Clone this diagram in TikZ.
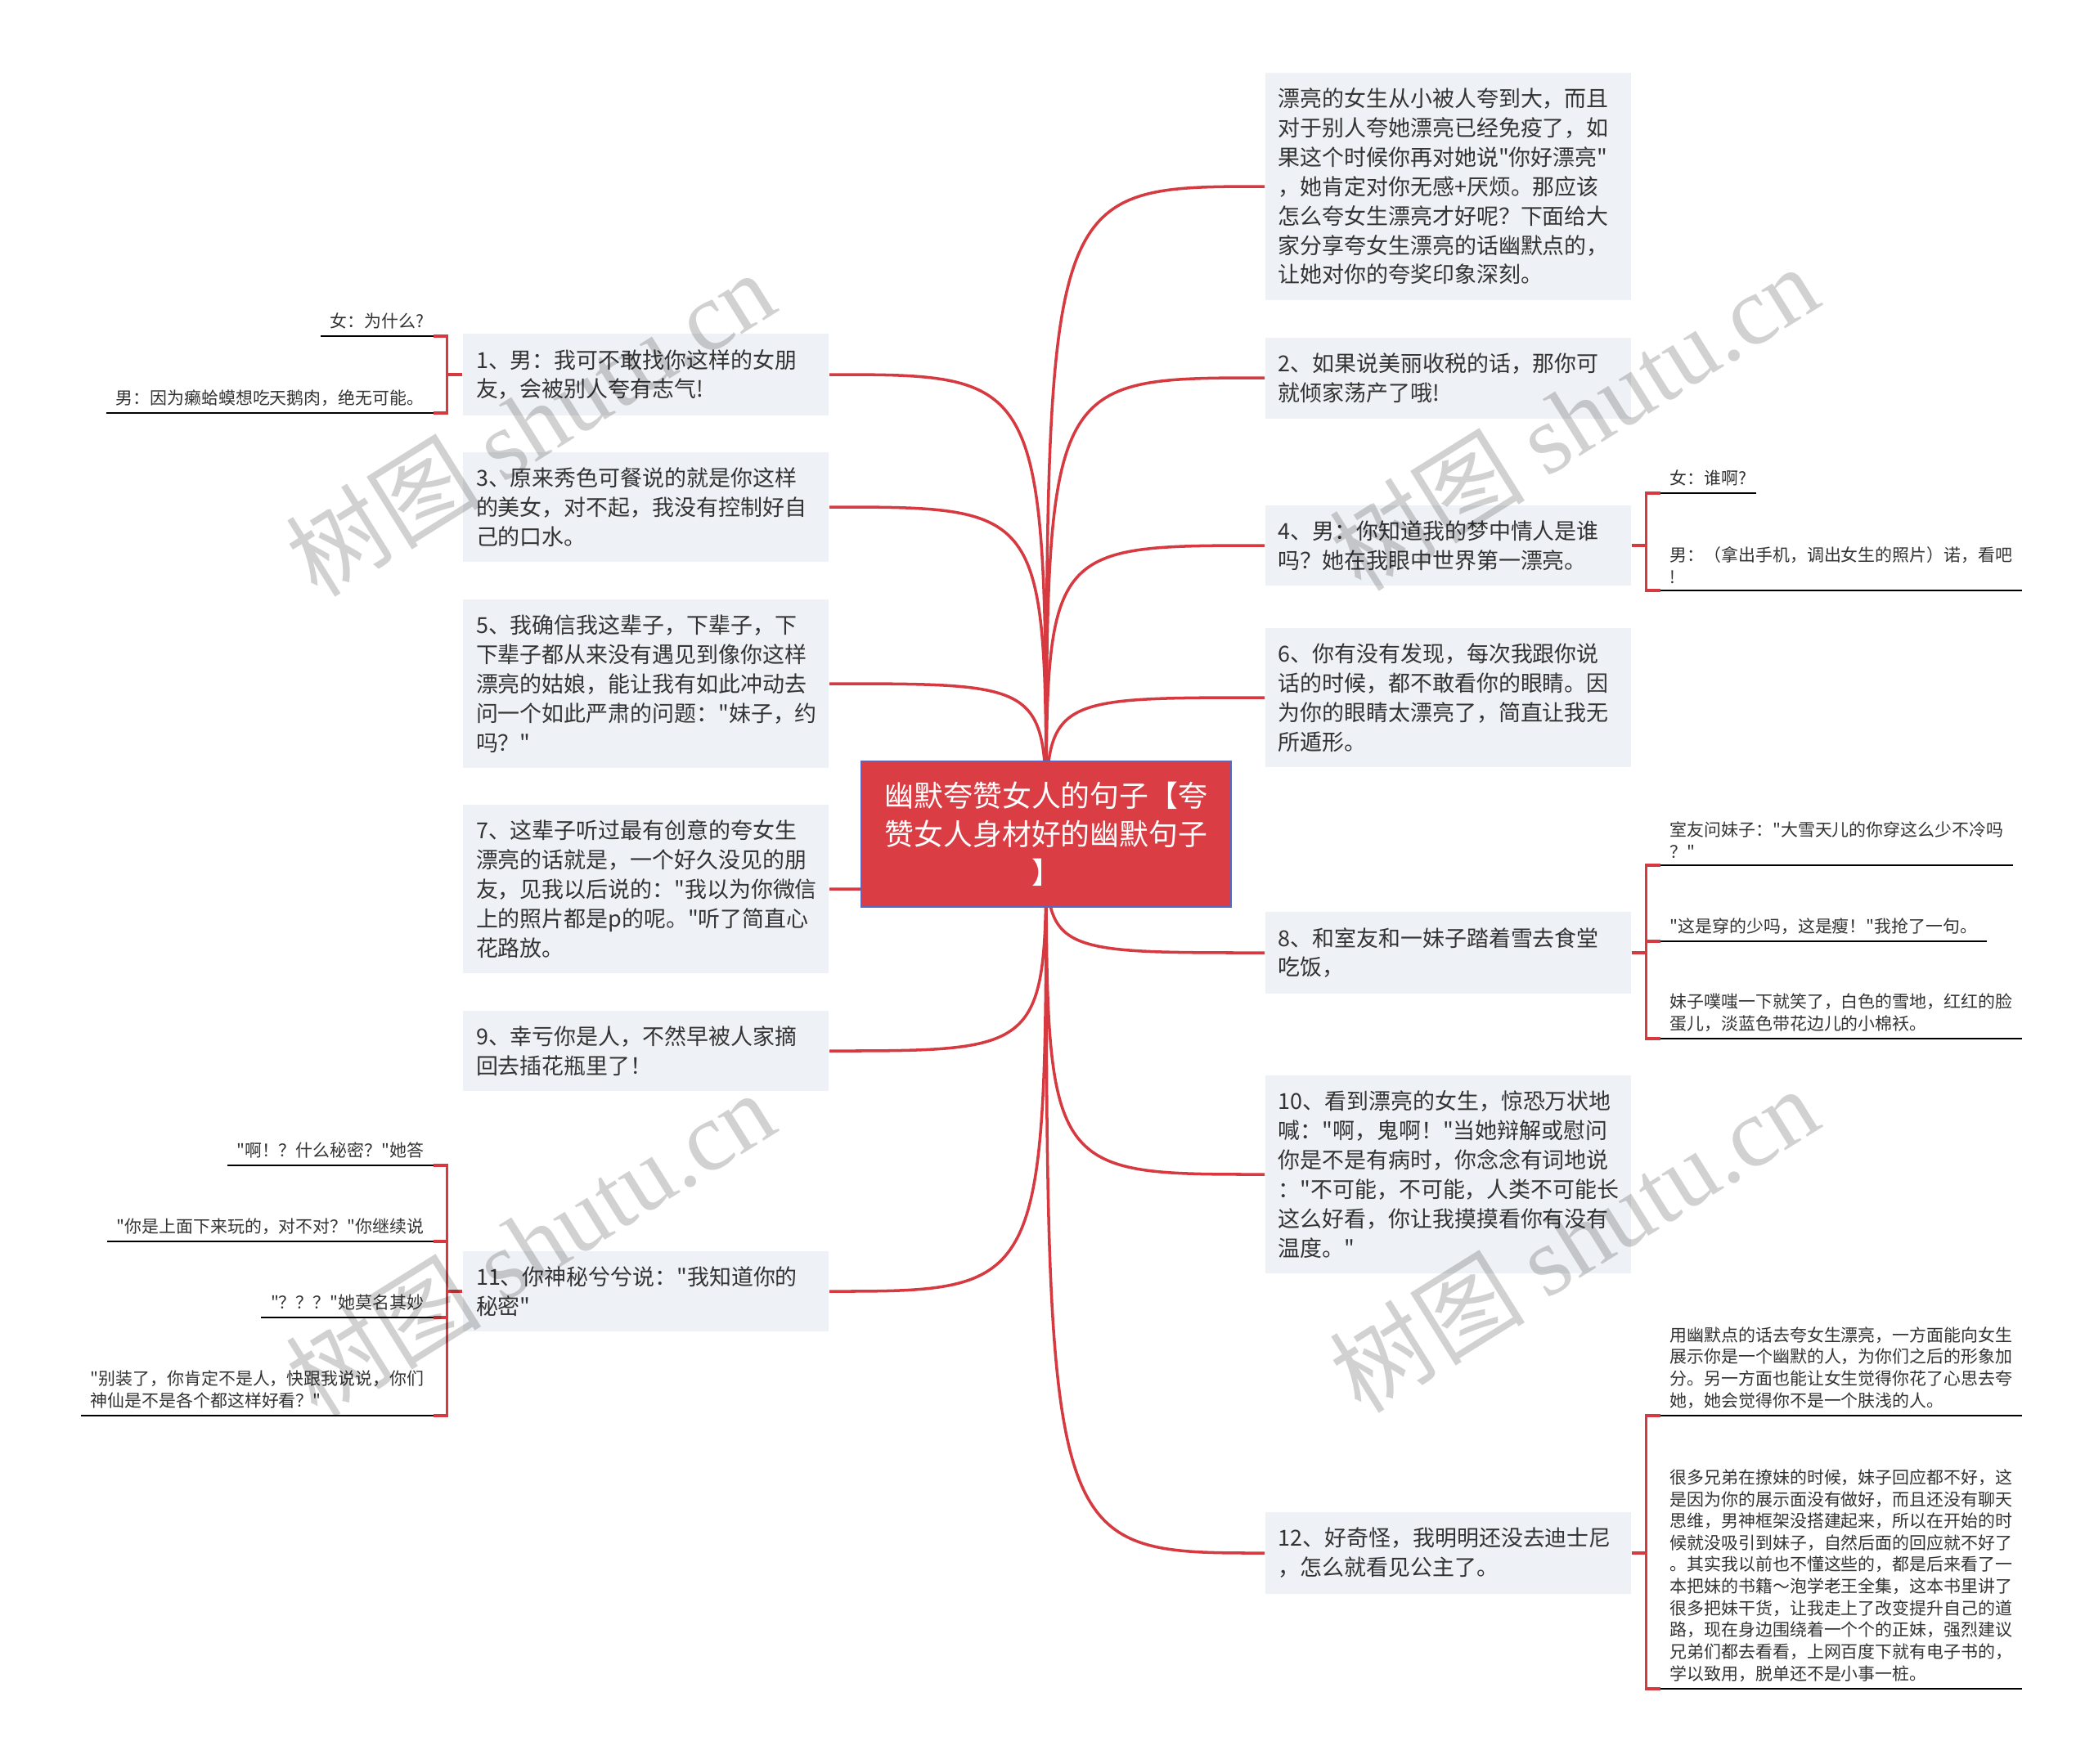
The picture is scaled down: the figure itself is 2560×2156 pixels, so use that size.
\documentclass[tikz,border=0pt]{standalone}
\usepackage{fontspec}
\newfontfamily\cjk{Noto Sans CJK SC}
\newfontfamily\wmfont{Liberation Serif}
\usetikzlibrary{backgrounds}
\definecolor{linkred}{RGB}{214,58,64}
\definecolor{rootred}{RGB}{219,61,68}
\definecolor{rootedge}{RGB}{84,104,200}
\definecolor{boxfill}{RGB}{238,241,245}
\definecolor{txtgray}{RGB}{51,51,51}
\tikzset{
  root/.style={draw=rootedge, line width=0.4pt, fill=rootred, text=white, minimum width=4.52cm, minimum height=1.78cm, text width=4.2cm, align=center, font=\cjk\fontsize{10.2pt}{13.4pt}\selectfont},
  topic/.style={fill=boxfill, text=txtgray, text width=4.15cm, inner xsep=0.16cm, inner ysep=0.19cm, align=left, font=\cjk\fontsize{7.66pt}{10.2pt}\selectfont},
  leaf/.style={text=txtgray, inner xsep=0.11cm, inner ysep=0.08cm, align=left, font=\cjk\fontsize{5.95pt}{7.57pt}\selectfont},
  link/.style={draw=linkred, line width=1pt},
  underline/.style={draw=black, line width=0.8pt},
  wmark/.style={text=black, text opacity=0.18, rotate=32, font=\cjk\fontsize{34pt}{34pt}\selectfont}
}

\begin{document}
\begin{tikzpicture}[x=0.01cm, y=-0.01cm]
  \useasboundingbox (0,0) rectangle (2560,2156);

  % root
  \node[root] (root) at (1279,1020) {幽默夸赞女人的句子【夸\\赞女人身材好的幽默句子\\】};

  % right topics
  \node[topic, anchor=west] (intro) at (1546,228) {漂亮的女生从小被人夸到大，而且\\对于别人夸她漂亮已经免疫了，如\\果这个时候你再对她说"你好漂亮"\\，她肯定对你无感+厌烦。那应该\\怎么夸女生漂亮才好呢？下面给大\\家分享夸女生漂亮的话幽默点的，\\让她对你的夸奖印象深刻。};
  \node[topic, anchor=west] (b2) at (1546,462) {2、如果说美丽收税的话，那你可\\就倾家荡产了哦!};
  \node[topic, anchor=west] (b4) at (1546,667) {4、男：你知道我的梦中情人是谁\\吗？她在我眼中世界第一漂亮。};
  \node[topic, anchor=west] (b6) at (1546,853) {6、你有没有发现，每次我跟你说\\话的时候，都不敢看你的眼睛。因\\为你的眼睛太漂亮了，简直让我无\\所遁形。};
  \node[topic, anchor=west] (b8) at (1546,1165) {8、和室友和一妹子踏着雪去食堂\\吃饭，};
  \node[topic, anchor=west] (b10) at (1546,1436) {10、看到漂亮的女生，惊恐万状地\\喊："啊，鬼啊！"当她辩解或慰问\\你是不是有病时，你念念有词地说\\："不可能，不可能，人类不可能长\\这么好看，你让我摸摸看你有没有\\温度。"};
  \node[topic, anchor=west] (b12) at (1546,1899) {12、好奇怪，我明明还没去迪士尼\\，怎么就看见公主了。};

  % left topics
  \node[topic, anchor=east] (b1) at (1014,458) {1、男：我可不敢找你这样的女朋\\友，会被别人夸有志气!};
  \node[topic, anchor=east] (b3) at (1014,620) {3、原来秀色可餐说的就是你这样\\的美女，对不起，我没有控制好自\\己的口水。};
  \node[topic, anchor=east] (b5) at (1014,836) {5、我确信我这辈子，下辈子，下\\下辈子都从来没有遇见到像你这样\\漂亮的姑娘，能让我有如此冲动去\\问一个如此严肃的问题："妹子，约\\吗？"};
  \node[topic, anchor=east] (b7) at (1014,1087) {7、这辈子听过最有创意的夸女生\\漂亮的话就是，一个好久没见的朋\\友，见我以后说的："我以为你微信\\上的照片都是p的呢。"听了简直心\\花路放。};
  \node[topic, anchor=east] (b9) at (1014,1285) {9、幸亏你是人，不然早被人家摘\\回去插花瓶里了！};
  \node[topic, anchor=east] (b11) at (1014,1579) {11、你神秘兮兮说："我知道你的\\秘密"};

  % leaves
  \node[leaf, anchor=south east] (l1a) at (530,411) {女：为什么?};
  \node[leaf, anchor=south east] (l1b) at (530,505) {男：因为癞蛤蟆想吃天鹅肉，绝无可能。};
  \node[leaf, anchor=south east] (l11a) at (530,1425) {"啊！？什么秘密？"她答};
  \node[leaf, anchor=south east] (l11b) at (530,1518) {"你是上面下来玩的，对不对？"你继续说};
  \node[leaf, anchor=south east] (l11c) at (530,1611) {"？？？"她莫名其妙};
  \node[leaf, anchor=south east] (l11d) at (530,1731) {"别装了，你肯定不是人，快跟我说说，你们\\神仙是不是各个都这样好看？"};
  \node[leaf, anchor=south west] (r4a) at (2030,603) {女：谁啊?};
  \node[leaf, anchor=south west] (r4b) at (2030,722) {男：（拿出手机，调出女生的照片）诺，看吧\\!};
  \node[leaf, anchor=south west] (r8a) at (2030,1058) {室友问妹子："大雪天儿的你穿这么少不冷吗\\？"};
  \node[leaf, anchor=south west] (r8b) at (2030,1151) {"这是穿的少吗，这是瘦！"我抢了一句。};
  \node[leaf, anchor=south west] (r8c) at (2030,1270) {妹子噗嗤一下就笑了，白色的雪地，红红的脸\\蛋儿，淡蓝色带花边儿的小棉袄。};
  \node[leaf, anchor=south west] (r12a) at (2030,1731) {用幽默点的话去夸女生漂亮，一方面能向女生\\展示你是一个幽默的人，为你们之后的形象加\\分。另一方面也能让女生觉得你花了心思去夸\\她，她会觉得你不是一个肤浅的人。};
  \node[leaf, anchor=south west] (r12b) at (2030,2065) {很多兄弟在撩妹的时候，妹子回应都不好，这\\是因为你的展示面没有做好，而且还没有聊天\\思维，男神框架没搭建起来，所以在开始的时\\候就没吸引到妹子，自然后面的回应就不好了\\。其实我以前也不懂这些的，都是后来看了一\\本把妹的书籍～泡学老王全集，这本书里讲了\\很多把妹干货，让我走上了改变提升自己的道\\路，现在身边围绕着一个个的正妹，强烈建议\\兄弟们都去看看，上网百度下就有电子书的，\\学以致用，脱单还不是小事一桩。};

  % connectors
  \begin{scope}[on background layer]
    \fill[white] (0,0) rectangle (2560,2156);
    \foreach \t in {intro,b2,b4,b6,b8,b10,b12}
      \draw[link] (root.center) .. controls (root.center |- \t.west) .. (\t.west);
    \foreach \t in {b1,b3,b5,b7,b9,b11}
      \draw[link] (root.center) .. controls (root.center |- \t.east) .. (\t.east);
  \end{scope}
  \foreach \t/\l in {b1/l1a,b1/l1b,b11/l11a,b11/l11b,b11/l11c,b11/l11d}
    \draw[link] (\t.west) -- ++(-19,0) |- (\l.south east);
  \foreach \t/\l in {b4/r4a,b4/r4b,b8/r8a,b8/r8b,b8/r8c,b12/r12a,b12/r12b}
    \draw[link] (\t.east) -- ++(18,0) |- (\l.south west);
  \foreach \l in {l1a,l1b,l11a,l11b,l11c,l11d,r4a,r4b,r8a,r8b,r8c,r12a,r12b}
    \draw[underline] (\l.south west) -- (\l.south east);

  % watermarks
  \foreach \x/\y [count=\i] in {648/517,1924/510,648/1520,1924/1515}
    \node[wmark] (wm\i) at (\x,\y) {树图 {\wmfont shutu.cn}};
\end{tikzpicture}
\end{document}
